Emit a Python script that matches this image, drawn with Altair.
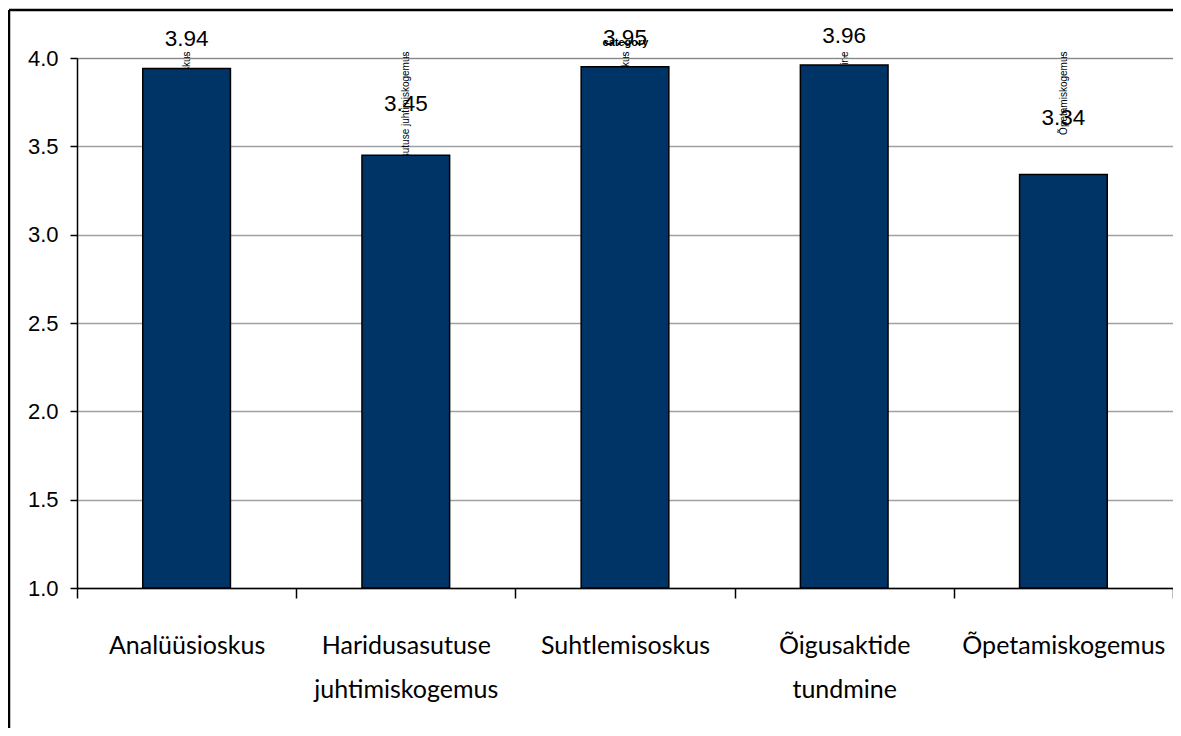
import altair as alt
import pandas as pd

categories = [
    "Analüüsioskus",
    "Haridusasutuse juhtimiskogemus",
    "Suhtlemisoskus",
    "Õigusaktide tundmine",
    "Õpetamiskogemus",
]
values = [3.94, 3.45, 3.95, 3.96, 3.34]
y_ticks = [1.0, 1.5, 2.0, 2.5, 3.0, 3.5, 4.0]

df = pd.DataFrame({"category": categories, "value": values})

NUMFONT = "Liberation Sans"
CATFONT = "Lato"

x_enc = alt.X(
    "category:N",
    sort=categories,
    scale=alt.Scale(paddingInner=0, paddingOuter=0),
    axis=alt.Axis(
        title=None,
        labelAngle=0,
        tickBand="extent",
        tickSize=10,
        tickWidth=1.5,
        tickColor="black",
        domainColor="black",
        domainWidth=1.5,
        labelFont=CATFONT,
        labelFontSize=25,
        labelColor="black",
        labelPadding=35,
        labelLineHeight=44,
        labelLimit=400,
        labelExpr="split(datum.label, ' ')",
        grid=False,
    ),
)

y_enc = alt.Y(
    "value:Q",
    scale=alt.Scale(domain=[1, 4], nice=False, zero=False),
    axis=alt.Axis(
        title=None,
        values=y_ticks,
        format=".1f",
        tickSize=7,
        tickWidth=1.5,
        tickColor="black",
        domainColor="black",
        domainWidth=1.5,
        labelFont=NUMFONT,
        labelFontSize=22,
        labelColor="black",
        labelPadding=12,
        gridColor="#a0a0a0",
        gridWidth=1.5,
    ),
)

base = alt.Chart(df)

bars = base.mark_bar(
    width=alt.RelativeBandSize(0.4),
    color="#003366",
    stroke="black",
    strokeWidth=1.5,
).encode(x=x_enc, y=y_enc, y2=alt.datum(1))

labels = base.mark_text(
    dy=-20,
    baseline="alphabetic",
    font=NUMFONT,
    fontSize=22.5,
    color="black",
).encode(x=alt.X("category:N", sort=categories), y="value:Q", text=alt.Text("value:Q", format=".2f"))

# outer frame (top and left edges), in pixel units relative to the plot area
frame_df = pd.DataFrame({
    "fx": [-68, -68],
    "fx2": [1096, -68],
    "fy": [-48, -48],
    "fy2": [-48, 670],
})
frame = alt.Chart(frame_df).mark_rule(
    color="black", strokeWidth=2.5, clip=False
).encode(
    x=alt.X("fx:Q", scale=None, axis=None),
    x2="fx2:Q",
    y=alt.Y("fy:Q", scale=None, axis=None),
    y2="fy2:Q",
)

chart = alt.layer(bars, labels, frame).resolve_scale(
    x="independent", y="independent"
).properties(
    width=1096,
    height=530,
    autosize=alt.AutoSizeParams(type="none"),
    padding={"left": 69, "top": 50, "right": 0, "bottom": 140},
).configure_view(stroke="transparent")

chart.save("out.html", embed_options={"renderer": "svg", "actions": False})
